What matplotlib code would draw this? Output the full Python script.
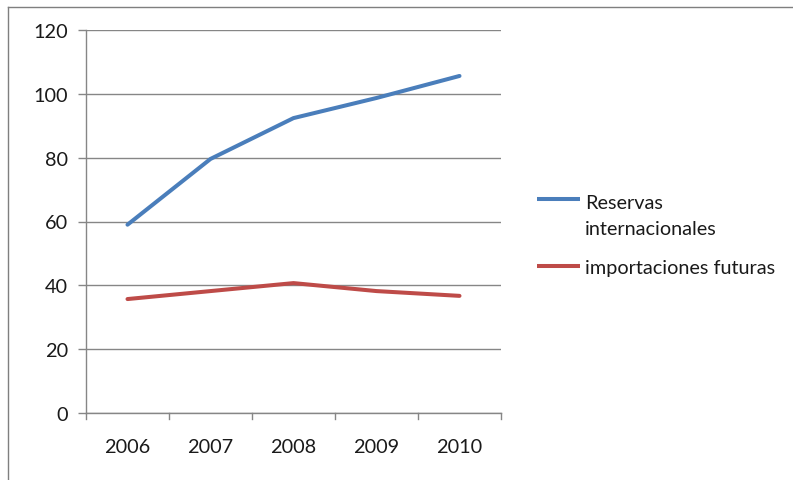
import matplotlib
matplotlib.use("Agg")
import matplotlib.pyplot as plt
from matplotlib.lines import Line2D

years = ["2006", "2007", "2008", "2009", "2010"]
reservas = [59.0, 79.6, 92.4, 98.7, 105.6]
importaciones = [35.7, 38.2, 40.7, 38.2, 36.7]
yticks = [0, 20, 40, 60, 80, 100, 120]
series_names = ["Reservas\ninternacionales", "importaciones futuras"]
series_colors = ["#4a7ebb", "#be4b48"]

plt.rcParams["font.family"] = ["Lato", "DejaVu Sans"]
W, H = 793, 481
fig = plt.figure(figsize=(W / 100, H / 100), dpi=100)

def fx(px):
    return px / W

def fy(py):
    return 1 - py / H

# outer chart frame (left and top edges visible)
fig.add_artist(Line2D([fx(8), fx(8)], [0, fy(8)], color="#7f7f7f", lw=1.0))
fig.add_artist(Line2D([fx(8), 1], [fy(8), fy(8)], color="#7f7f7f", lw=1.0))

left, right, top, bottom = 86, 501, 31, 414
ax = fig.add_axes([fx(left), fy(bottom), (right - left) / W, (bottom - top) / H])

x = list(range(len(years)))
for vals, color, name in zip([reservas, importaciones], series_colors, series_names):
    ax.plot(x, vals, color=color, lw=2.9, solid_capstyle="round", label=name)

ax.set_xlim(-0.5, len(years) - 0.5)
ax.set_ylim(0, 120)
ax.set_yticks(yticks)
ax.set_yticklabels([str(v) for v in yticks], fontsize=14.3, color="#1a1a1a")
ax.set_xticks(x)
ax.set_xticklabels(years, fontsize=14.3, color="#1a1a1a")
ax.tick_params(axis="x", length=0, pad=18)
ax.tick_params(axis="y", length=6, color="#868686", width=1.0, pad=7)

# category boundary tick marks on the x axis
for b in [i - 0.5 for i in range(len(years) + 1)]:
    ax.plot([b, b], [0, -1.8], color="#868686", lw=1.0, clip_on=False)

ax.grid(axis="y", color="#868686", lw=1.0)
ax.set_axisbelow(True)
for s in ["top", "right"]:
    ax.spines[s].set_visible(False)
for s in ["left", "bottom"]:
    ax.spines[s].set_color("#868686")
    ax.spines[s].set_linewidth(1.0)

# legend: short line swatch beside the first line of each label
# (swatch y, baseline of the label's last line)
legend_rows = [(200, 235), (267, 274)]
for (ly, base), color, name in zip(legend_rows, series_colors, series_names):
    fig.add_artist(Line2D([fx(537), fx(580)], [fy(ly), fy(ly)], color=color,
                          lw=2.9, solid_capstyle="butt"))
    fig.text(fx(585), fy(base), name, fontsize=14.3, color="#1a1a1a",
             ha="left", va="baseline", linespacing=1.62)

fig.savefig("out.png", dpi=100)
